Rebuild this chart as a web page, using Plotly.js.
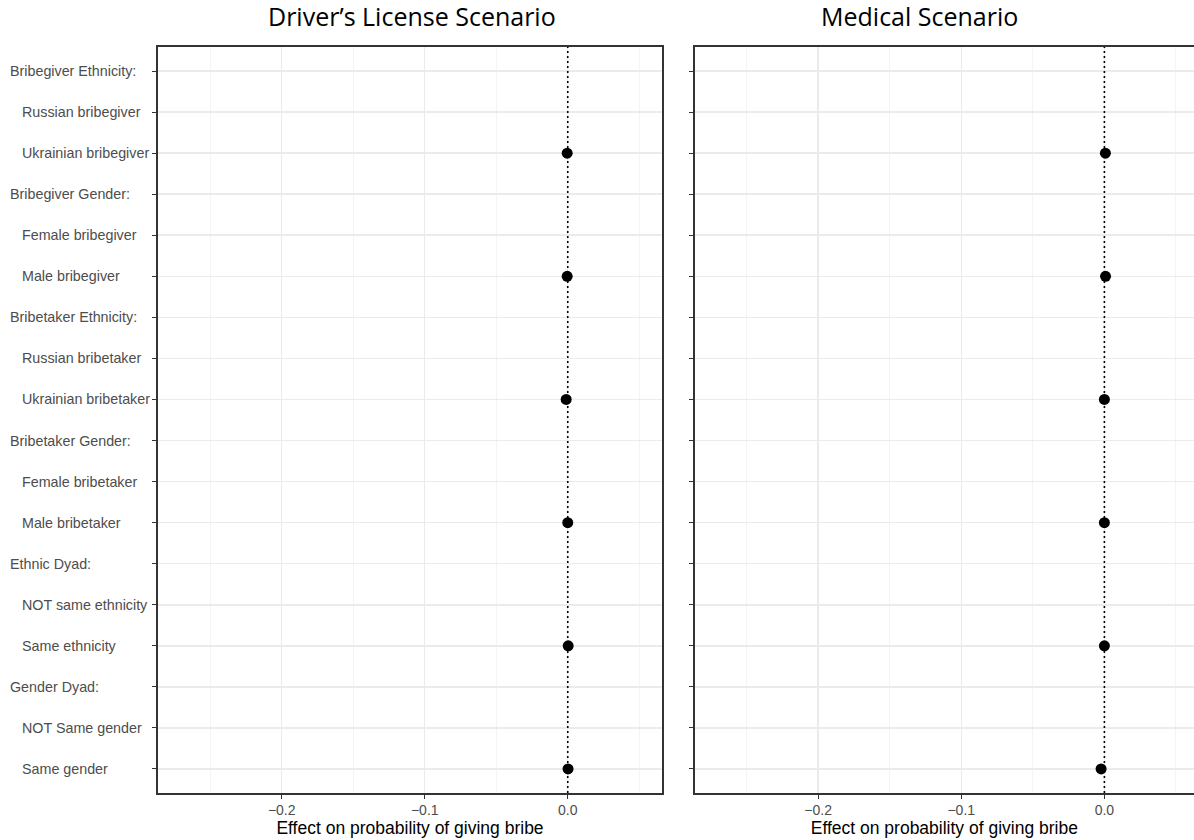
<!DOCTYPE html>
<html>
<head>
<meta charset="utf-8">
<script src="https://cdn.plot.ly/plotly-3.0.1.min.js"></script>
<style>html,body{margin:0;padding:0;background:#fff;}#chart{width:1194px;height:840px;}</style>
</head>
<body>
<div id="chart"></div>
<script>
// ---- data ----
const categories = [
  "Bribegiver Ethnicity:", "Russian bribegiver", "Ukrainian bribegiver",
  "Bribegiver Gender:", "Female bribegiver", "Male bribegiver",
  "Bribetaker Ethnicity:", "Russian bribetaker", "Ukrainian bribetaker",
  "Bribetaker Gender:", "Female bribetaker", "Male bribetaker",
  "Ethnic Dyad:", "NOT same ethnicity", "Same ethnicity",
  "Gender Dyad:", "NOT Same gender", "Same gender"
];
const pointCategories = [
  "Ukrainian bribegiver", "Male bribegiver", "Ukrainian bribetaker",
  "Male bribetaker", "Same ethnicity", "Same gender"
];
const driverEffects  = [-0.0004, -0.0004, -0.0011, 0.0000, 0.0003, 0.0002];
const medicalEffects = [ 0.0007,  0.0008,  0.0000, 0.0000, 0.0000, -0.0023];
const panelTitles = ["Driver\u2019s License Scenario", "Medical Scenario"];
const xTitle = "Effect on probability of giving bribe";
const xTickVals = [-0.2, -0.1, 0.0];
const xTickText = ["\u22120.2", "\u22120.1", "0.0"];
const xMinorVals = [-0.25, -0.15, -0.05, 0.05];
const refValue = 0;

// ---- layout helpers ----
const W = 1194, H = 840;
const mL = 158, mR = 0, mT = 47, mB = 47;
const plotW = W - mL - mR, plotH = H - mT - mB;
const px2x = p => (p - mL) / plotW;
const px2y = p => 1 - (p - mT) / plotH;

const border = '#333333';
const grid = '#ebebeb';
const sans = 'Liberation Sans, Arial, sans-serif';
const yLabelFont = {family: sans, size: 14.3, color: '#4d4d4d'};
const tickFont = {family: sans, size: 14, color: '#4d4d4d'};

const traces = [
  {x: driverEffects, y: pointCategories, xaxis: 'x', yaxis: 'y', type: 'scatter', mode: 'markers',
   marker: {color: '#000', size: 11}, hoverinfo: 'x+y', showlegend: false},
  {x: medicalEffects, y: pointCategories, xaxis: 'x2', yaxis: 'y2', type: 'scatter', mode: 'markers',
   marker: {color: '#000', size: 11}, hoverinfo: 'x+y', showlegend: false}
];

const catOrder = categories.slice().reverse();
const yRange = [-0.585, categories.length - 1 + 0.585];

function xAxis(domain, range, anchor) {
  return {
    domain: domain, range: range, anchor: anchor,
    tickmode: 'array', tickvals: xTickVals, ticktext: xTickText,
    ticks: 'outside', ticklen: 4, tickwidth: 1, tickcolor: border,
    tickfont: tickFont,
    showgrid: true, gridcolor: grid, gridwidth: 1.3,
    minor: {tickmode: 'array', tickvals: xMinorVals, showgrid: true, gridcolor: '#f1f1f1', gridwidth: 0.8, ticks: ''},
    showline: true, linecolor: border, linewidth: 1.6, mirror: true,
    zeroline: false, automargin: false,
    title: {text: xTitle, font: {family: sans, size: 17.5, color: '#000'}, standoff: 4}
  };
}
function yAxis(anchor, mirror) {
  return {
    domain: [0, 1], anchor: anchor,
    type: 'category', categoryorder: 'array', categoryarray: catOrder,
    range: yRange,
    showticklabels: false,
    ticks: 'outside', ticklen: 4, tickwidth: 1, tickcolor: border,
    showgrid: true, gridcolor: grid, gridwidth: 1.5,
    showline: true, linecolor: border, linewidth: 1.6, mirror: mirror,
    zeroline: false, automargin: false
  };
}

const leftRangeX = [-0.2865, 0.0659];
const rightRangeX = [-0.2862, 0.0626];

const annotations = [];
categories.forEach(c => {
  const header = c.endsWith(':');
  annotations.push({
    xref: 'paper', yref: 'y', x: px2x(header ? 8 : 19.5), y: c,
    xanchor: 'left', yanchor: 'middle', showarrow: false, text: c,
    font: yLabelFont
  });
});
const titleCenters = [411.5, 919];
panelTitles.forEach((t, i) => {
  annotations.push({
    xref: 'paper', yref: 'paper', x: px2x(titleCenters[i]), y: px2y(16),
    xanchor: 'center', yanchor: 'middle', showarrow: false, text: t,
    font: {family: 'Open Sans, Noto Sans, sans-serif', size: 25, color: '#000'}
  });
});

const shapes = [
  {type: 'line', xref: 'x', yref: 'paper', x0: refValue, x1: refValue, y0: 0, y1: 1,
   line: {color: '#000', width: 1.6, dash: '2px,3px'}},
  {type: 'line', xref: 'x2', yref: 'paper', x0: refValue, x1: refValue, y0: 0, y1: 1,
   line: {color: '#000', width: 1.6, dash: '2px,3px'}}
];

const layout = {
  width: W, height: H,
  margin: {l: mL, r: mR, t: mT, b: mB, pad: 0},
  paper_bgcolor: '#fff', plot_bgcolor: '#fff',
  showlegend: false,
  xaxis: xAxis([0, px2x(662)], leftRangeX, 'y'),
  yaxis: yAxis('x', true),
  xaxis2: xAxis([px2x(694.7), 1], rightRangeX, 'y2'),
  yaxis2: yAxis('x2', false),
  annotations: annotations,
  shapes: shapes
};

Plotly.newPlot('chart', traces, layout, {displayModeBar: false, staticPlot: true});
</script>
</body>
</html>
